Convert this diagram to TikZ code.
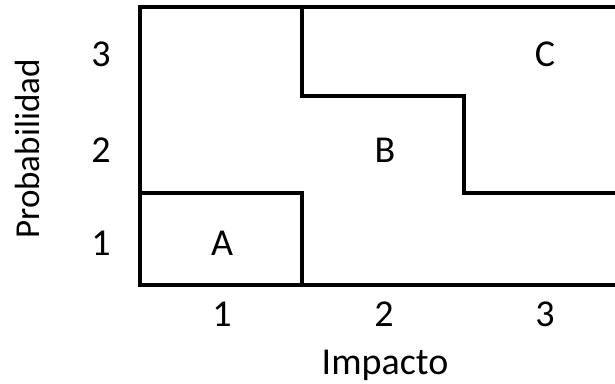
\documentclass[tikz,border=0pt]{standalone}
\usepackage{fontspec}
\setmainfont{Carlito}
\begin{document}
\begin{tikzpicture}[x=1pt,y=-1pt,
  grid/.style={line width=4pt,line cap=rect},
  lbl/.style={font=\fontsize{38}{42}\selectfont,inner sep=0pt,anchor=center}]
\useasboundingbox (0,0) rectangle (615,383);
\clip (0,0) rectangle (615,383);
% outer frame (left, top, bottom; open on the right)
\coordinate (tl) at (140,7);
\coordinate (bl) at (140,285);
\coordinate (tr) at (620,7);
\coordinate (br) at (620,285);
\draw[grid] (tr) -- (tl) -- (bl) -- (br);
% C boundary
\coordinate (c1) at (302,7);
\coordinate (c2) at (302,96);
\coordinate (c3) at (464,96);
\coordinate (c4) at (464,193);
\coordinate (c5) at (620,193);
\draw[grid] (c1) -- (c2) -- (c3) -- (c4) -- (c5);
% A boundary
\coordinate (a1) at (140,193);
\coordinate (a2) at (302,193);
\coordinate (a3) at (302,285);
\draw[grid] (a1) -- (a2) -- (a3);
% region labels
\node[lbl] (A) at (222,243) {A};
\node[lbl] (B) at (385,150) {B};
\node[lbl] (C) at (545,54) {C};
% axis ticks
\node[lbl] (y3) at (101,54) {3};
\node[lbl] (y2) at (101,150) {2};
\node[lbl] (y1) at (101,243) {1};
\node[lbl] (x1) at (222,314) {1};
\node[lbl] (x2) at (384,314) {2};
\node[lbl] (x3) at (545,314) {3};
% axis titles
\node[lbl,anchor=base] (xt) at (385,374) {Impacto};
\node[lbl,anchor=base,rotate=90,font=\fontsize{35}{40}\selectfont] (yt) at (39,149) {Probabilidad};
\end{tikzpicture}
\end{document}
